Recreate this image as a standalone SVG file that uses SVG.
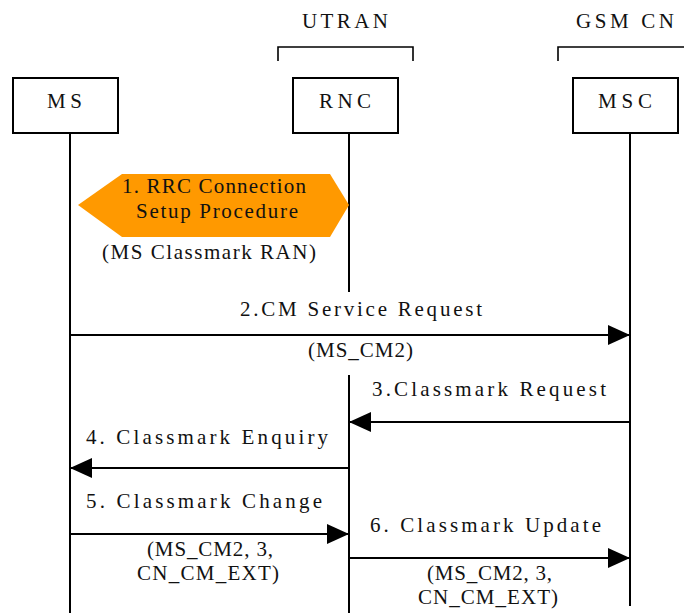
<svg xmlns="http://www.w3.org/2000/svg" width="684" height="613" viewBox="0 0 684 613" font-family="'Liberation Serif', 'DejaVu Serif', serif">
  <style>
    text { font-family: "Liberation Serif", "DejaVu Serif", serif; font-size: 21px; fill: #111; }
    .box { fill: #fff; stroke: #000; stroke-width: 2; }
    .life { stroke: #000; stroke-width: 2; fill: none; }
    .bracket { stroke: #000; stroke-width: 1.6; fill: none; }
    .msg { stroke: #000; stroke-width: 2.2; fill: none; marker-end: url(#head); }
  </style>
  <defs>
    <marker id="head" markerUnits="userSpaceOnUse" markerWidth="22" markerHeight="20" refX="22" refY="10" orient="auto">
      <path d="M0,0 L22,10 L0,20 Z" fill="#000"/>
    </marker>
  </defs>
  <rect width="684" height="613" fill="#fff"/>

  <!-- domain brackets -->
  <g id="utran">
    <text x="302" y="28" textLength="86" lengthAdjust="spacing">UTRAN</text>
    <path class="bracket" d="M278,61 V47 H413 V61"/>
  </g>
  <g id="gsm-cn">
    <text x="576" y="28" textLength="98" lengthAdjust="spacing">GSM CN</text>
    <path class="bracket" d="M558,61 V47 H690"/>
  </g>

  <!-- lifelines -->
  <g id="lifelines">
    <line class="life" x1="70" y1="133" x2="70" y2="613"/>
    <line class="life" x1="349" y1="133" x2="349" y2="292"/>
    <line class="life" x1="349" y1="375" x2="349" y2="613"/>
    <line class="life" x1="630" y1="133" x2="630" y2="606"/>
  </g>

  <!-- entities -->
  <g id="ms">
    <rect class="box" x="13" y="78" width="105" height="55"/>
    <text x="47" y="108" textLength="35" lengthAdjust="spacing">MS</text>
  </g>
  <g id="rnc">
    <rect class="box" x="293" y="78" width="105" height="55"/>
    <text x="319" y="108" textLength="52" lengthAdjust="spacing">RNC</text>
  </g>
  <g id="msc">
    <rect class="box" x="573" y="78" width="105" height="55"/>
    <text x="598" y="108" textLength="54" lengthAdjust="spacing">MSC</text>
  </g>

  <!-- RRC connection setup procedure -->
  <g id="rrc-setup">
    <polygon points="78,205 122,174 330,174 349,205 330,237 122,237" fill="#FF9900"/>
    <text x="122" y="193" textLength="184" lengthAdjust="spacing">1. RRC Connection</text>
    <text x="136" y="218" textLength="162" lengthAdjust="spacing">Setup Procedure</text>
    <text x="102" y="259" textLength="214" lengthAdjust="spacing">(MS Classmark RAN)</text>
  </g>

  <!-- messages -->
  <g id="connectors">
    <line class="msg" x1="70" y1="335" x2="630" y2="335"/>
    <line class="msg" x1="630" y1="422" x2="349" y2="422"/>
    <line class="msg" x1="349" y1="468" x2="70" y2="468"/>
    <line class="msg" x1="70" y1="534" x2="349" y2="534"/>
    <line class="msg" x1="349" y1="558" x2="630" y2="558"/>
  </g>

  <g id="labels">
    <text x="240" y="316" textLength="242" lengthAdjust="spacing">2.CM Service Request</text>
    <text x="308" y="357" textLength="105" lengthAdjust="spacing">(MS_CM2)</text>
    <text x="372" y="396" textLength="234" lengthAdjust="spacing">3.Classmark Request</text>
    <text x="86" y="444" textLength="242" lengthAdjust="spacing">4. Classmark Enquiry</text>
    <text x="86" y="508" textLength="236" lengthAdjust="spacing">5. Classmark Change</text>
    <text x="147" y="556" textLength="126" lengthAdjust="spacing">(MS_CM2, 3,</text>
    <text x="137" y="580" textLength="142" lengthAdjust="spacing">CN_CM_EXT)</text>
    <text x="370" y="532" textLength="231" lengthAdjust="spacing">6. Classmark Update</text>
    <text x="427" y="580" textLength="125" lengthAdjust="spacing">(MS_CM2, 3,</text>
    <text x="418" y="604" textLength="140" lengthAdjust="spacing">CN_CM_EXT)</text>
  </g>
</svg>
